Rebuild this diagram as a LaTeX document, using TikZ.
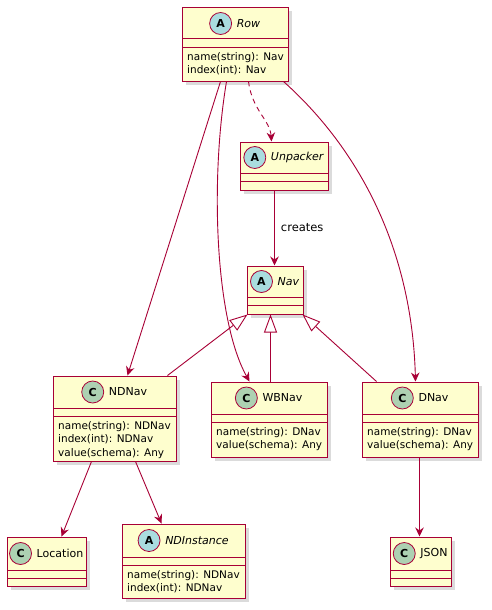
\documentclass[tikz,border=0pt]{standalone}
\usepackage{fontspec}
\setmainfont{DejaVu Sans}
\usetikzlibrary{arrows.meta,shadows,calc}

\definecolor{umlfill}{HTML}{FEFECE}
\definecolor{umlline}{HTML}{A80036}
\definecolor{abstractmark}{HTML}{A9DCDF}
\definecolor{classmark}{HTML}{ADD1B2}

\tikzset{
  clsbox/.style={draw=umlline, fill=umlfill, line width=1pt, inner sep=0pt,
    drop shadow={shadow xshift=3.5pt, shadow yshift=-3.5pt, opacity=0.28}},
  divider/.style={draw=umlline, line width=1pt},
  titletext/.style={font=\fontsize{11}{13}\selectfont, inner sep=0pt},
  attrtext/.style={font=\fontsize{10.5}{13.3}\selectfont, align=left, inner sep=0pt, anchor=north west},
  kindmark/.style={circle, draw=umlline, line width=0.8pt, minimum size=22pt, inner sep=0pt,
    font=\bfseries\fontsize{11}{13}\selectfont},
  kindA/.style={kindmark, fill=abstractmark},
  kindC/.style={kindmark, fill=classmark},
  assoc/.style={draw=umlline, line width=0.9pt, -{Stealth[length=9pt, width=8.5pt, inset=3pt]}},
  extends/.style={draw=umlline, line width=0.9pt, -{Triangle[length=18pt, width=13pt, fill=white]}},
  edgelabel/.style={font=\fontsize{11.5}{13}\selectfont, inner sep=0pt, anchor=west},
}

% #1 name, #2 left, #3 top, #4 right, #5 bottom, #6 header bottom,
% #7 kind letter (A or C), #8 title, #9 attribute lines
\newcommand\umlclass[9]{%
  \node[clsbox, minimum width={#4-#2}, minimum height={#5-#3}] (#1) at ({(#2+#4)/2},{(#3+#5)/2}) {};
  \draw[divider] (#2,#6) -- (#4,#6);
  \draw[divider] (#2,{#6+8.5}) -- (#4,{#6+8.5});
  \node[titletext] (#1-title) at ({(#2+#4)/2+13.5},{(#3+#6)/2}) {#8};
  \node[kind#7] (#1-kind) at ($(#1-title.west)+(-16,0)$) {#7};
  \node[attrtext] (#1-attrs) at ({#2+5},{#6+13.5}) {#9};
}

\begin{document}
\begin{tikzpicture}[x=1pt, y=-1pt]
  \fill[white] (0,0) rectangle (491,610);
  \useasboundingbox (0,0) rectangle (491,610);

  \umlclass{row}{182}{8}{288}{81}{39}{A}{\textit{Row}}{name(string): Nav\\index(int): Nav}
  \umlclass{unpacker}{240}{142}{328}{190}{173}{A}{\textit{Unpacker}}{}
  \umlclass{nav}{247}{266}{303}{314}{297}{A}{\textit{Nav}}{}
  \umlclass{ndnav}{53}{376}{176}{461}{408}{C}{NDNav}{name(string): NDNav\\index(int): NDNav\\value(schema): Any}
  \umlclass{wbnav}{211}{382}{327}{457}{414}{C}{WBNav}{name(string): DNav\\value(schema): Any}
  \umlclass{dnav}{362}{382}{478}{457}{414}{C}{DNav}{name(string): DNav\\value(schema): Any}
  \umlclass{location}{7}{537}{86}{586}{570}{C}{Location}{}
  \umlclass{ndinstance}{122}{524}{245}{598}{557}{A}{\textit{NDInstance}}{name(string): NDNav\\index(int): NDNav}
  \umlclass{json}{390}{537}{451}{586}{570}{C}{JSON}{}

  % associations leaving Row
  \draw[assoc] ([xshift=39pt]row.south west) -- ([xshift=75pt]ndnav.north west);
  \draw[assoc] ([xshift=45pt]row.south west) .. controls (210,180) and (215,320) .. ([xshift=39pt]wbnav.north west);
  \draw[assoc, dash pattern=on 5pt off 4pt] ([xshift=67pt]row.south west) .. controls (252,110) and (270,120) .. ([xshift=32pt]unpacker.north west);
  \draw[assoc] ([xshift=102pt]row.south west) .. controls (360,150) and (412,250) .. ([xshift=54pt]dnav.north west);

  % Unpacker creates Nav
  \draw[assoc] ([xshift=35pt]unpacker.south west) -- node[edgelabel, xshift=6pt] (createslabel) {creates} ([xshift=28pt]nav.north west);

  % subclasses of Nav
  \draw[extends] ([xshift=115pt]ndnav.north west) -- ([xshift=1pt]nav.south west);
  \draw[extends] ([xshift=60pt]wbnav.north west) -- ([xshift=24pt]nav.south west);
  \draw[extends] ([xshift=15pt]dnav.north west) -- ([xshift=-1pt]nav.south east);

  % lower associations
  \draw[assoc] ([xshift=39pt]ndnav.south west) -- ([xshift=55pt]location.north west);
  \draw[assoc] ([xshift=83pt]ndnav.south west) -- ([xshift=40pt]ndinstance.north west);
  \draw[assoc] ([xshift=58pt]dnav.south west) -- ([xshift=30pt]json.north west);
\end{tikzpicture}
\end{document}
